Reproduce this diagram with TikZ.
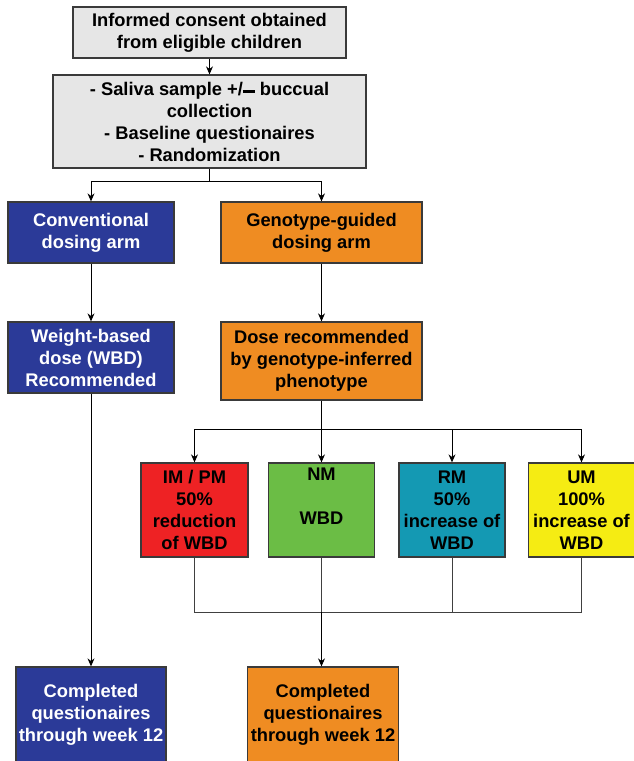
\documentclass[tikz,border=0pt]{standalone}
\usepackage{fontspec}
\setmainfont{Liberation Sans}
\usetikzlibrary{arrows.meta}
\definecolor{boxgray}{HTML}{E6E6E6}
\definecolor{armblue}{HTML}{2B3A98}
\definecolor{armorange}{HTML}{EF8C22}
\definecolor{pmred}{HTML}{EE2224}
\definecolor{nmgreen}{HTML}{6BBD45}
\definecolor{rmteal}{HTML}{1499B3}
\definecolor{umyellow}{HTML}{F5EC13}
\definecolor{boxline}{HTML}{3A3A3A}
\tikzset{
  box/.style={draw=boxline,line width=1.3pt,inner sep=0pt,align=center,
    font=\bfseries\fontsize{18.3}{22}\selectfont},
  arr/.style={-{Stealth[length=8pt,width=7pt]},line width=0.9pt,black},
  joinline/.style={line width=0.9pt,black!75}
}
\begin{document}
\begin{tikzpicture}[x=1pt,y=-1pt]
\useasboundingbox (0,0) rectangle (634,761);
% top of the trial
\node[box,fill=boxgray,minimum width=273pt,minimum height=51pt] (consent) at (209.5,32.5)
  {Informed consent obtained\\from eligible children};
\node[box,fill=boxgray,minimum width=313pt,minimum height=93pt] (prep) at (209.5,121.5)
  {- Saliva sample +/\rule[0.25ex]{0.65em}{0.3ex} buccual\\collection\\- Baseline questionaires\\- Randomization};
% the two arms
\node[box,fill=armblue,text=white,minimum width=166pt,minimum height=61pt] (conv) at (91,232.5)
  {Conventional\\dosing arm};
\node[box,fill=armorange,minimum width=201pt,minimum height=61pt] (geno) at (321.5,232.5)
  {Genotype-guided\\dosing arm};
\node[box,fill=armblue,text=white,minimum width=166pt,minimum height=71pt] (wbd) at (91,357.5)
  {Weight-based\\dose (WBD)\\Recommended};
\node[box,fill=armorange,minimum width=201pt,minimum height=78pt] (dose) at (321.5,361)
  {\raisebox{5pt}{\begin{tabular}{@{}c@{}}Dose recommended\\by genotype-inferred\\phenotype\end{tabular}}};
% phenotype groups
\node[box,fill=pmred,minimum width=107pt,minimum height=94pt] (impm) at (194.5,510)
  {IM / PM\\50\%\\reduction\\of WBD};
\node[box,fill=nmgreen,minimum width=106pt,minimum height=94pt] (nm) at (321.5,510)
  {NM\\\strut\\WBD\\\strut};
\node[box,fill=rmteal,minimum width=106pt,minimum height=94pt] (rm) at (452,510)
  {RM\\50\%\\increase of\\WBD};
\node[box,fill=umyellow,minimum width=106pt,minimum height=94pt] (um) at (581.5,510)
  {UM\\100\%\\increase of\\WBD};
% end of follow-up
\node[box,fill=armblue,text=white,minimum width=150pt,minimum height=96pt] (endconv) at (91,715)
  {Completed\\questionaires\\through week 12};
\node[box,fill=armorange,minimum width=151pt,minimum height=96pt] (endgeno) at (323,715)
  {Completed\\questionaires\\through week 12};
% connectors
\coordinate (split1) at (209.5,181);
\coordinate (split2) at (321.5,429);
\coordinate (merge) at (321.5,612);
\draw[joinline,black] (prep.south) -- (split1);
\draw[arr] (consent) -- (prep);
\draw[arr] (split1) -| (conv.north);
\draw[arr] (split1) -| (geno.north);
\draw[arr] (conv) -- (wbd);
\draw[arr] (geno) -- (dose);
\draw[line width=1.4pt] (dose.south) -- (split2);
\foreach \g in {impm,nm,rm,um}
  \draw[arr] (split2) -| (\g.north);
\foreach \g in {impm,nm,rm,um}
  \draw[joinline] (\g.south) |- (merge);
\draw[arr] (merge) -- (merge |- endgeno.north);
\draw[arr] (wbd.south) -- (endconv.north);
\end{tikzpicture}
\end{document}
